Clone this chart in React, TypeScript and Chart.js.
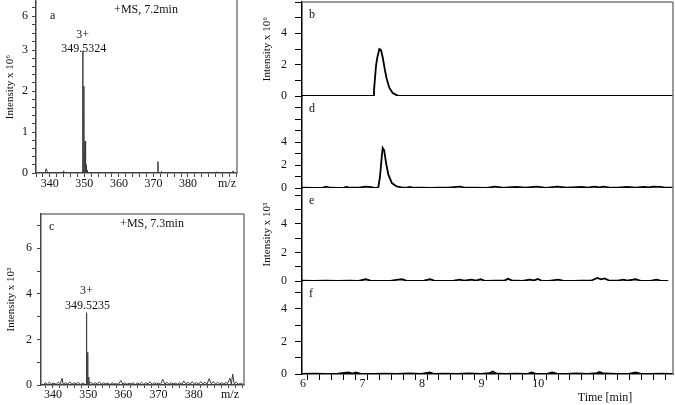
import React, { useEffect, useRef } from 'react';
import { Chart, registerables } from 'chart.js';

Chart.register(...registerables);

const SERIF = "'Liberation Serif', 'Times New Roman', Times, serif";

// ---------- Panel a: mass spectrum, +MS 7.2 min (intensity x 10^6) ----------
const A_SPECTRUM: [number, number][] = [
  [336.0, 0], [338.7, 0], [338.9, 0.1], [339.05, 0.07], [339.3, 0.04], [339.6, 0.01], [339.9, 0],
  [343.8, 0], [344.0, 0.05], [344.25, 0],
  [349.45, 0], [349.53, 2.98], [349.6, 0],
  [349.79, 0], [349.86, 2.12], [349.93, 0],
  [350.12, 0], [350.19, 0.78], [350.26, 0],
  [350.46, 0], [350.53, 0.2], [350.6, 0],
  [350.8, 0], [350.86, 0.07], [350.93, 0],
  [367.3, 0], [367.5, 0.02], [367.7, 0],
  [371.22, 0], [371.3, 0.28], [371.38, 0],
  [372.2, 0], [372.3, 0.04], [372.4, 0],
  [388.2, 0], [388.4, 0.03], [388.6, 0],
  [392.8, 0], [393.0, 0.05], [393.2, 0],
  [394.2, 0],
];
const A_PEAK_MZ = 349.5324;
const A_PEAK_INT = 2.98;
const A_X_LABELS = [340, 350, 360, 370, 380];
const A_Y_LABELS = [0, 1, 2, 3, 6];
const A_Y_UPPER_MINOR = [3.75, 4.5, 5.25, 6, 6.75];
const A_BREAK = 3; // axis is compressed above this value
const A_COMPRESS = 0.277;

// ---------- Panel c: mass spectrum, +MS 7.3 min (intensity x 10^3) ----------
const C_SPECTRUM: [number, number][] = [
  [336.6, 0.03], [337.3, 0.02], [337.8, 0.1], [338.4, 0.03], [339.0, 0.12], [339.6, 0.04], [340.3, 0.08],
  [340.9, 0.02], [341.5, 0.12], [342.1, 0.05], [342.6, 0.3], [342.9, 0.03], [343.5, 0.1], [344.2, 0.04],
  [344.8, 0.14], [345.4, 0.03], [346.0, 0.1], [346.6, 0.05], [347.2, 0.12], [347.8, 0.03], [348.4, 0.08],
  [349.0, 0.04], [349.45, 0.02], [349.52, 3.17], [349.6, 0.05], [349.8, 0.05], [349.86, 1.43], [349.93, 0.06],
  [350.12, 0.05], [350.19, 0.35], [350.26, 0.05], [350.8, 0.12], [351.4, 0.03], [352.0, 0.1], [352.6, 0.04],
  [353.2, 0.14], [353.8, 0.03], [354.4, 0.1], [355.0, 0.05], [355.6, 0.08], [356.2, 0.02], [356.8, 0.1],
  [357.4, 0.04], [358.0, 0.06], [358.6, 0.03], [359.3, 0.2], [359.8, 0.04], [360.4, 0.1], [361.0, 0.03],
  [361.6, 0.08], [362.2, 0.05], [362.8, 0.1], [363.4, 0.02], [364.0, 0.09], [364.6, 0.04], [365.2, 0.12],
  [365.8, 0.03], [366.4, 0.1], [367.0, 0.05], [367.6, 0.14], [368.2, 0.03], [368.8, 0.1], [369.4, 0.05],
  [370.0, 0.08], [370.6, 0.03], [371.2, 0.25], [371.8, 0.04], [372.4, 0.12], [373.0, 0.03], [373.6, 0.1],
  [374.2, 0.05], [374.8, 0.08], [375.4, 0.03], [376.0, 0.1], [376.6, 0.04], [377.2, 0.18], [377.8, 0.05],
  [378.4, 0.12], [379.0, 0.03], [379.6, 0.15], [380.2, 0.05], [380.8, 0.1], [381.4, 0.04], [382.0, 0.15],
  [382.6, 0.05], [383.2, 0.12], [383.8, 0.04], [384.4, 0.28], [385.0, 0.05], [385.6, 0.15], [386.2, 0.04],
  [386.8, 0.12], [387.4, 0.05], [388.0, 0.1], [388.6, 0.04], [389.2, 0.12], [389.6, 0.05], [390.3, 0.3],
  [390.7, 0.04], [391.1, 0.48], [391.5, 0.05], [392.1, 0.12], [392.7, 0.03], [393.3, 0.08], [394.0, 0.03],
];
const C_PEAK_MZ = 349.5235;
const C_PEAK_INT = 3.17;
const C_X_LABELS = [340, 350, 360, 370, 380];
const C_Y_LABELS = [0, 2, 4, 6];

// ---------- Panels b, d, e, f: extracted ion chromatograms vs time [min] ----------
const B_TRACE: [number, number][] = [
  [5.9, 0], [7.098, 0], [7.109, 0.36], [7.143, 1.94], [7.165, 2.47], [7.199, 3.0], [7.227, 2.93],
  [7.255, 2.47], [7.294, 1.62], [7.322, 1.1], [7.366, 0.53], [7.423, 0.19], [7.49, 0.06], [7.535, 0], [12.13, 0],
];
const D_TRACE: [number, number][] = [
  [5.9, 0.02], [6.1, 0.0], [6.25, 0.03], [6.31, 0.12], [6.37, 0.02], [6.5, 0.0], [6.6, 0.04], [6.65, 0.1],
  [6.7, 0.02], [6.85, 0.03], [6.97, 0.12], [7.03, 0.1], [7.1, 0.03], [7.18, 0.0], [7.21, 1.0], [7.24, 2.75],
  [7.255, 3.48], [7.28, 3.28], [7.31, 2.23], [7.35, 1.16], [7.41, 0.43], [7.49, 0.14], [7.57, 0.06],
  [7.65, 0.02], [7.71, 0.1], [7.77, 0.02], [7.9, 0.03], [8.05, 0.0], [8.2, 0.04], [8.35, 0.02], [8.5, 0.1],
  [8.56, 0.12], [8.62, 0.03], [8.8, 0.02], [9.0, 0.0], [9.14, 0.12], [9.3, 0.02], [9.5, 0.1], [9.65, 0.03],
  [9.84, 0.12], [10.0, 0.02], [10.18, 0.12], [10.35, 0.03], [10.6, 0.1], [10.7, 0.04], [10.8, 0.12],
  [10.9, 0.05], [10.96, 0.12], [11.1, 0.02], [11.2, 0.04], [11.36, 0.1], [11.5, 0.03], [11.64, 0.1],
  [11.72, 0.05], [11.8, 0.12], [11.92, 0.1], [12.0, 0.03], [12.13, 0.02],
];
const E_TRACE: [number, number][] = [
  [5.9, 0.02], [6.1, 0.0], [6.3, 0.03], [6.5, 0.0], [6.7, 0.02], [6.85, 0.0], [6.97, 0.12], [7.05, 0.02],
  [7.2, 0.0], [7.4, 0.03], [7.52, 0.1], [7.58, 0.12], [7.65, 0.02], [7.8, 0.0], [7.95, 0.03], [8.05, 0.12],
  [8.12, 0.02], [8.3, 0.0], [8.45, 0.03], [8.55, 0.1], [8.62, 0.02], [8.75, 0.1], [8.82, 0.02], [8.9, 0.12],
  [8.98, 0.0], [9.15, 0.02], [9.3, 0.03], [9.36, 0.15], [9.42, 0.05], [9.6, 0.0], [9.72, 0.1], [9.8, 0.04],
  [9.86, 0.14], [9.92, 0.03], [10.05, 0.0], [10.2, 0.1], [10.28, 0.02], [10.45, 0.0], [10.6, 0.03],
  [10.75, 0.02], [10.86, 0.22], [10.92, 0.12], [10.98, 0.18], [11.05, 0.05], [11.2, 0.02], [11.3, 0.1],
  [11.36, 0.02], [11.5, 0.12], [11.58, 0.03], [11.75, 0.0], [11.85, 0.1], [11.92, 0.02], [12.05, 0.0],
];
const F_TRACE: [number, number][] = [
  [5.9, 0.0], [6.1, 0.02], [6.3, 0.0], [6.5, 0.02], [6.68, 0.1], [6.75, 0.03], [6.8, 0.1], [6.88, 0.02],
  [7.1, 0.0], [7.3, 0.02], [7.5, 0.0], [7.7, 0.03], [7.9, 0.0], [8.05, 0.1], [8.12, 0.0], [8.3, 0.02],
  [8.5, 0.0], [8.7, 0.03], [8.9, 0.0], [9.05, 0.05], [9.1, 0.15], [9.16, 0.04], [9.3, 0.0], [9.5, 0.02],
  [9.68, 0.0], [9.75, 0.1], [9.82, 0.02], [10.0, 0.0], [10.1, 0.1], [10.18, 0.02], [10.35, 0.0],
  [10.5, 0.03], [10.7, 0.0], [10.85, 0.05], [10.9, 0.12], [10.96, 0.03], [11.2, 0.0], [11.4, 0.02],
  [11.5, 0.1], [11.58, 0.02], [11.75, 0.0], [11.95, 0.02], [12.05, 0.0],
];
const T_LABELS = [6, 7, 8, 9, 10];
const B_Y_MAX = 6;
const D_Y_MAX = 8;
const E_Y_MAX = 6.5;
const F_Y_MAX = 5.7;
const RIGHT_Y_LABELS = [0, 2, 4];

// ---------- helpers ----------
const range = (a: number, b: number, s: number) => {
  const out: number[] = [];
  for (let i = 0; a + i * s <= b + 1e-9; i++) out.push(Math.round((a + i * s) * 1e6) / 1e6);
  return out;
};
const near = (a: number, b: number) => Math.abs(a - b) < 1e-6;
const brk = (v: number) => (v <= A_BREAK ? v : A_BREAK + (v - A_BREAK) * A_COMPRESS);
const font12 = { family: SERIF, size: 12 };

function zeroPad(s: any) {
  s.paddingTop = 0;
  s.paddingBottom = 0;
  s.paddingLeft = 0;
  s.paddingRight = 0;
}

function xAxis(o: any) {
  return {
    type: 'linear', position: 'bottom', min: o.min, max: o.max, bounds: 'data',
    afterBuildTicks: (s: any) => { s.ticks = o.ticks.map((v: number) => ({ value: v })); },
    afterFit: (s: any) => { s.height = o.height; zeroPad(s); },
    ticks: {
      autoSkip: false, maxRotation: 0, minRotation: 0, padding: o.padding, color: '#111', font: font12,
      align: o.align || 'center', labelOffset: o.labelOffset || 0,
      callback: (v: number) => { const h = o.labels.find((l: number) => near(l, v)); return h === undefined ? '' : String(h); },
    },
    grid: { drawOnChartArea: false, drawTicks: true, tickLength: o.tickLength, tickColor: o.color, tickWidth: 1 },
    border: { display: true, color: o.color, width: 1.5 },
  };
}

function yAxis(o: any) {
  return {
    type: 'linear', position: 'left', min: 0, max: o.max, bounds: 'data',
    stack: o.stack, stackWeight: o.stackWeight, weight: o.weight,
    afterBuildTicks: (s: any) => { s.ticks = o.ticks.map((v: number) => ({ value: v })); },
    afterFit: (s: any) => { s.width = o.width; zeroPad(s); },
    ticks: {
      autoSkip: false, padding: o.padding, color: '#111', font: font12,
      callback: (v: number) => { const h = o.labels.find((l: number) => near(o.pos ? o.pos(l) : l, v)); return h === undefined ? '' : String(h); },
    },
    grid: { drawOnChartArea: false, drawTicks: true, tickLength: o.tickLength, tickColor: o.color, tickWidth: 1 },
    border: { display: true, color: o.color, width: 1.5 },
    title: o.title
      ? { display: true, text: o.title, color: '#111', font: { family: SERIF, size: 11 }, padding: { top: o.titlePad, bottom: 0 } }
      : { display: false },
  };
}

type Txt = { text: string; x: (c: any) => number; y: (c: any) => number; align?: CanvasTextAlign; base?: CanvasTextBaseline };
function deco(id: string, frame: { top?: boolean; right?: boolean; rightFrom?: number }, texts: Txt[]) {
  return {
    id,
    afterDraw(chart: any) {
      const { ctx, chartArea: a } = chart;
      ctx.save();
      ctx.strokeStyle = '#7a7a7a';
      ctx.lineWidth = 1.5;
      ctx.beginPath();
      if (frame.top) { ctx.moveTo(a.left, a.top); ctx.lineTo(a.right, a.top); }
      if (frame.right) { ctx.moveTo(a.right, frame.rightFrom ?? a.top); ctx.lineTo(a.right, a.bottom); }
      ctx.stroke();
      for (const t of texts) {
        ctx.font = `12px ${SERIF}`;
        ctx.fillStyle = '#111';
        ctx.textAlign = t.align || 'left';
        ctx.textBaseline = t.base || 'middle';
        ctx.fillText(t.text, t.x(chart), t.y(chart));
      }
      ctx.restore();
    },
  };
}

const baseOptions = {
  animation: false,
  responsive: false,
  maintainAspectRatio: false,
  events: [],
  plugins: { legend: { display: false }, tooltip: { enabled: false }, title: { display: false } },
};

function configA(): any {
  return {
    type: 'line',
    data: {
      datasets: [{
        data: A_SPECTRUM.map(([x, y]) => ({ x, y: brk(y) })),
        borderColor: '#3c3c3c', borderWidth: 1, pointRadius: 0, tension: 0,
      }],
    },
    options: {
      ...baseOptions,
      layout: { padding: { left: 0, top: 1, right: 8, bottom: 0 } },
      scales: {
        x: xAxis({ min: 336, max: 394.2, ticks: range(336, 394, 2), labels: A_X_LABELS, height: 22, tickLength: 4, padding: 0, color: '#444' }),
        y: yAxis({
          max: 4.2, ticks: [...range(0, 3, 0.2), ...A_Y_UPPER_MINOR.map(brk)], labels: A_Y_LABELS, pos: brk,
          width: 36, tickLength: 4, padding: 4, color: '#444', title: 'Intensity x 10⁶', titlePad: 4,
        }),
      },
    },
    plugins: [deco('decoA', { right: true, rightFrom: 0 }, [
      { text: 'a', x: (c) => c.chartArea.left + 14, y: (c) => c.chartArea.top + 15 },
      { text: '+MS, 7.2min', align: 'center', x: (c) => c.chartArea.left + 110, y: (c) => c.chartArea.top + 9 },
      { text: '3+', align: 'center', base: 'alphabetic', x: (c) => c.scales.x.getPixelForValue(A_PEAK_MZ), y: (c) => c.scales.y.getPixelForValue(brk(A_PEAK_INT)) - 13 },
      { text: '349.5324', align: 'center', base: 'alphabetic', x: (c) => c.scales.x.getPixelForValue(A_PEAK_MZ) + 1, y: (c) => c.scales.y.getPixelForValue(brk(A_PEAK_INT)) + 1 },
      { text: 'm/z', align: 'center', x: (c) => c.chartArea.right - 10, y: (c) => c.chartArea.bottom + 11 },
    ])],
  };
}

function configC(): any {
  return {
    type: 'line',
    data: {
      datasets: [{
        data: C_SPECTRUM.map(([x, y]) => ({ x, y })),
        borderColor: '#3c3c3c', borderWidth: 1, pointRadius: 0, tension: 0,
      }],
    },
    options: {
      ...baseOptions,
      layout: { padding: { left: 0, top: 19, right: 6, bottom: 0 } },
      scales: {
        x: xAxis({ min: 336.6, max: 394.3, ticks: range(338, 394, 2), labels: C_X_LABELS, height: 20, tickLength: 3, padding: 0, color: '#444' }),
        y: yAxis({
          max: 7.5, ticks: range(0, 7, 1), labels: C_Y_LABELS,
          width: 41, tickLength: 4, padding: 5, color: '#444', title: 'Intensity x 10³', titlePad: 5,
        }),
      },
    },
    plugins: [deco('decoC', { top: true, right: true }, [
      { text: 'c', x: (c) => c.chartArea.left + 8, y: (c) => c.chartArea.top + 13 },
      { text: '+MS, 7.3min', align: 'center', x: (c) => c.chartArea.left + 111, y: (c) => c.chartArea.top + 10 },
      { text: '3+', align: 'center', base: 'alphabetic', x: (c) => c.scales.x.getPixelForValue(C_PEAK_MZ), y: (c) => c.scales.y.getPixelForValue(C_PEAK_INT) - 19 },
      { text: '349.5235', align: 'center', base: 'alphabetic', x: (c) => c.scales.x.getPixelForValue(C_PEAK_MZ) + 1, y: (c) => c.scales.y.getPixelForValue(C_PEAK_INT) - 4 },
      { text: 'm/z', align: 'center', x: (c) => c.chartArea.right - 14, y: (c) => c.chartArea.bottom + 10 },
    ])],
  };
}

function configRight(): any {
  const trace = (d: [number, number][], axis: string) => ({
    data: d.map(([x, y]) => ({ x, y })), yAxisID: axis, xAxisID: 'x',
    borderColor: '#000', borderWidth: 1.8, pointRadius: 0, tension: 0,
  });
  const panelLabel = (t: string, axis: string): Txt => ({ text: t, x: (c) => c.chartArea.left + 7, y: (c) => c.scales[axis].top + 13 });
  return {
    type: 'line',
    data: { datasets: [trace(B_TRACE, 'yb'), trace(D_TRACE, 'yd'), trace(E_TRACE, 'ye'), trace(F_TRACE, 'yf')] },
    options: {
      ...baseOptions,
      layout: { padding: { left: 0, top: 2, right: 2, bottom: 0 } },
      scales: {
        x: xAxis({ min: 5.9, max: 12.13, ticks: range(6, 12, 0.2), labels: T_LABELS, height: 31, tickLength: 6, padding: -3, color: '#000', align: 'end', labelOffset: -2 }),
        yb: yAxis({ max: B_Y_MAX, ticks: range(0, 6, 1), labels: RIGHT_Y_LABELS, stack: 'rt', stackWeight: 94, weight: 4, width: 52, tickLength: 7, padding: 8, color: '#000', title: 'Intensity x 10⁶', titlePad: 11 }),
        yd: yAxis({ max: D_Y_MAX, ticks: range(0, 8, 1), labels: RIGHT_Y_LABELS, stack: 'rt', stackWeight: 92, weight: 3, width: 52, tickLength: 7, padding: 8, color: '#000' }),
        ye: yAxis({ max: E_Y_MAX, ticks: range(0, 6, 1), labels: RIGHT_Y_LABELS, stack: 'rt', stackWeight: 93, weight: 2, width: 52, tickLength: 7, padding: 8, color: '#000', title: 'Intensity x 10³', titlePad: 11 }),
        yf: yAxis({ max: F_Y_MAX, ticks: range(0, 5, 1), labels: RIGHT_Y_LABELS, stack: 'rt', stackWeight: 93, weight: 1, width: 52, tickLength: 7, padding: 8, color: '#000' }),
      },
    },
    plugins: [deco('decoR', { top: true, right: true }, [
      panelLabel('b', 'yb'), panelLabel('d', 'yd'), panelLabel('e', 'ye'), panelLabel('f', 'yf'),
      { text: 'Time [min]', align: 'center', x: (c) => c.chartArea.right - 68, y: (c) => c.chartArea.bottom + 24 },
    ])],
  };
}

function ChartCanvas({ left, top, width, height, build }: { left: number; top: number; width: number; height: number; build: () => any }) {
  const ref = useRef<HTMLCanvasElement>(null);
  useEffect(() => {
    if (!ref.current) return;
    const chart = new Chart(ref.current, build());
    return () => chart.destroy();
  }, []);
  return <canvas ref={ref} width={width} height={height} style={{ position: 'absolute', left, top, width, height }} />;
}

export default function App() {
  return (
    <div style={{ position: 'absolute', left: 0, top: 0, width: 675, height: 405, background: '#fff', overflow: 'hidden' }}>
      <ChartCanvas left={0} top={0} width={245} height={195} build={configA} />
      <ChartCanvas left={0} top={195} width={250} height={210} build={configC} />
      <ChartCanvas left={250} top={0} width={425} height={405} build={configRight} />
    </div>
  );
}
